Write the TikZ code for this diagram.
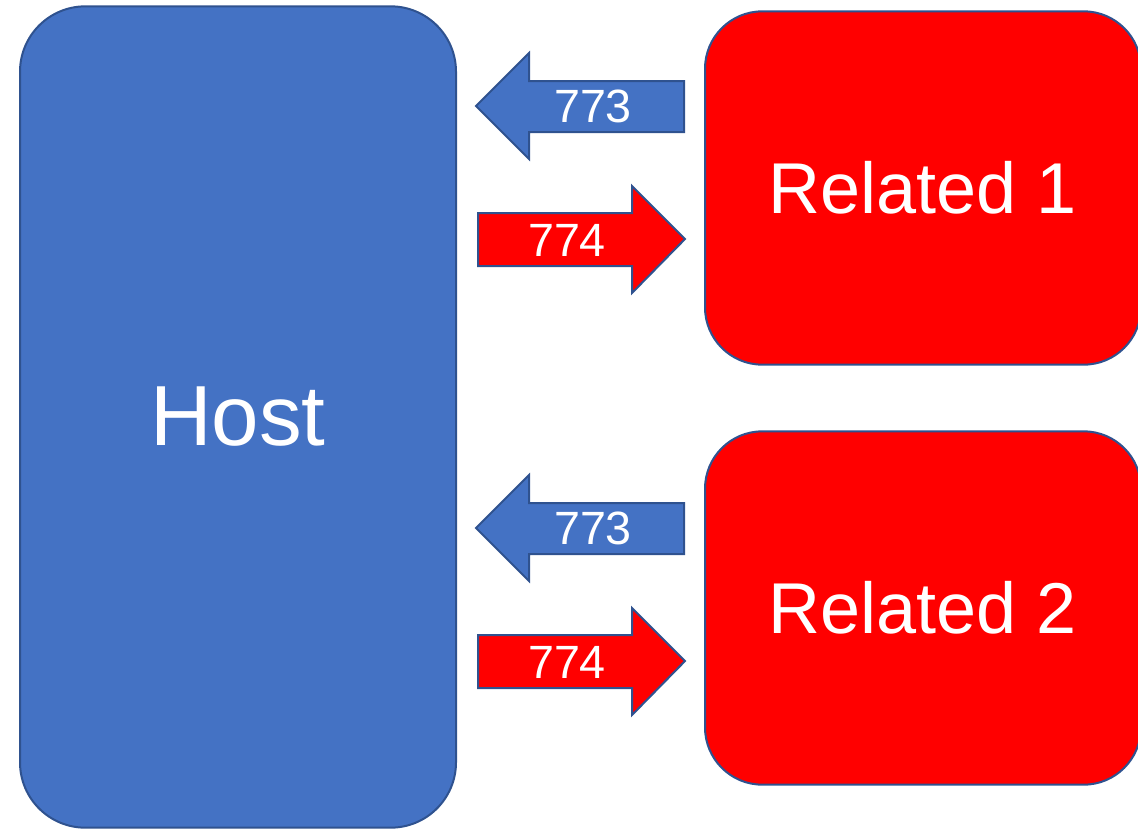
\documentclass[tikz,border=0pt]{standalone}
\usepackage{fontspec}
\setmainfont{Liberation Sans}
\usepackage{xcolor}

\definecolor{hostblue}{HTML}{4472C4}
\definecolor{edgeblue}{HTML}{2F528F}
\definecolor{relred}{HTML}{FF0000}

\tikzset{
  hostbox/.style={draw=edgeblue, fill=hostblue, line width=1.5pt, rounded corners=49pt,
    minimum width=327pt, minimum height=616pt, text=white, font=\fontsize{64}{70}\selectfont},
  relbox/.style={draw=edgeblue, fill=relred, line width=1.5pt, rounded corners=43pt,
    minimum width=327pt, minimum height=265pt, text=white, font=\fontsize{54}{60}\selectfont},
  inarrow/.style={draw=edgeblue, fill=hostblue, line width=1.5pt},
  outarrow/.style={draw=edgeblue, fill=relred, line width=1.5pt},
  num/.style={text=white, font=\fontsize{35}{40}\selectfont}
}

\begin{document}
\begin{tikzpicture}[x=0.75pt,y=-0.75pt]
    \useasboundingbox (0,0) rectangle (1138,829);

    \node[hostbox] (host) at (238,417) {Host};
    \node[relbox] (rel1) at (923,188) {Related 1};
    \node[relbox] (rel2) at (923,608) {Related 2};

    % first pair of arrows
    \draw[inarrow] (684,81) -- (529,81) -- (529,53) -- (476,106) -- (529,159) -- (529,132) -- (684,132) -- cycle;
    \node[num] (in1) at (593,106) {773};
    \draw[outarrow] (478,213) -- (632,213) -- (632,186) -- (685,239) -- (632,293) -- (632,266) -- (478,266) -- cycle;
    \node[num] (out1) at (567,240) {774};

    % second pair of arrows
    \draw[inarrow] (684,503) -- (529,503) -- (529,475) -- (476,528) -- (529,581) -- (529,554) -- (684,554) -- cycle;
    \node[num] (in2) at (593,528) {773};
    \draw[outarrow] (478,635) -- (632,635) -- (632,608) -- (685,661) -- (632,715) -- (632,688) -- (478,688) -- cycle;
    \node[num] (out2) at (567,662) {774};
\end{tikzpicture}
\end{document}
